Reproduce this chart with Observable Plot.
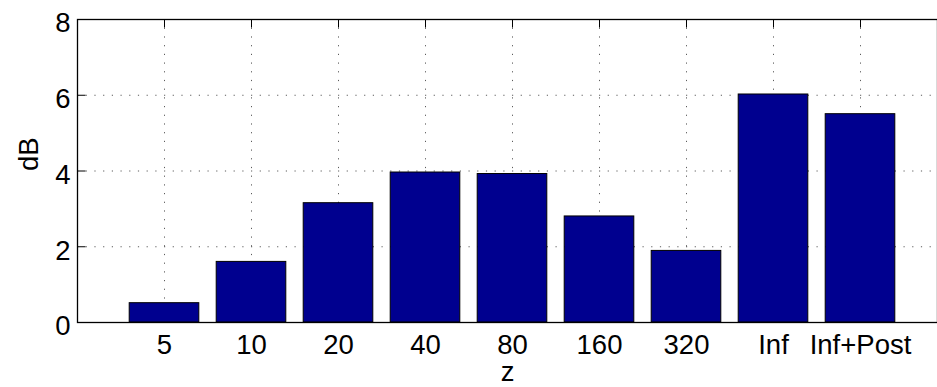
<!DOCTYPE html>
<html>
<head>
<meta charset="utf-8">
<script src="https://cdn.jsdelivr.net/npm/d3@7"></script>
<script src="https://cdn.jsdelivr.net/npm/@observablehq/plot@0.6"></script>
<style>
  html, body { margin: 0; padding: 0; background: #fff; overflow: hidden; width: 937px; height: 387px; }
</style>
</head>
<body>
<div id="chart"></div>
<script>
// Gain (dB) per z setting
const categories = ["5", "10", "20", "40", "80", "160", "320", "Inf", "Inf+Post"];
const values = [0.51, 1.60, 3.15, 3.96, 3.92, 2.80, 1.89, 6.02, 5.50];
const yTicks = [0, 2, 4, 6, 8];

const positions = categories.map((_, i) => i + 1);
const bars = categories.map((c, i) => ({category: c, pos: positions[i], value: values[i]}));

const width = 937, height = 387;
const xDomain = [0, 10], yDomain = [0, 8];
const xRange = [77, 947], yRange = [322, 19];
const tickPx = 8.5;
const xPerPx = (xDomain[1] - xDomain[0]) / (xRange[1] - xRange[0]);
const yPerPx = (yDomain[1] - yDomain[0]) / (yRange[0] - yRange[1]);
const font = '"Liberation Sans", Arial, Helvetica, sans-serif';
const grid = {stroke: "#333", strokeWidth: 1, strokeDasharray: "1.2,7.5", strokeOpacity: 0.8};
const fs = 27.5;

const chart = Plot.plot({
  width, height,
  marginLeft: 77, marginTop: 19, marginBottom: 65, marginRight: 0,
  style: {fontFamily: font, background: "#fff", overflow: "hidden"},
  x: {domain: xDomain, range: xRange, axis: null},
  y: {domain: yDomain, range: yRange, axis: null},
  marks: [
    // dotted grid
    Plot.ruleY(yTicks.slice(1, -1), {y: d => d, ...grid}),
    Plot.ruleX(positions, {x: d => d, ...grid}),
    // inward tick marks
    Plot.ruleX(positions, {x: d => d, y1: yDomain[1], y2: yDomain[1] - tickPx * yPerPx, stroke: "#000"}),
    Plot.ruleX(positions, {x: d => d, y1: yDomain[0], y2: yDomain[0] + tickPx * yPerPx, stroke: "#000"}),
    Plot.ruleY(yTicks, {y: d => d, x1: xDomain[0], x2: xDomain[0] + tickPx * xPerPx, stroke: "#000"}),
    // bars
    Plot.rect(bars, {x1: d => d.pos - 0.4, x2: d => d.pos + 0.4, y1: 0, y2: "value", fill: "#00008f", stroke: "#000", strokeWidth: 1}),
    Plot.frame({stroke: "#000", strokeWidth: 1.3}),
    // tick labels
    Plot.text(yTicks, {y: d => d, frameAnchor: "left", textAnchor: "end", dx: -7, dy: 4, fontSize: fs, fill: "#000"}),
    Plot.text(bars, {x: "pos", text: "category", frameAnchor: "bottom", dy: 31, fontSize: fs, fill: "#000"}),
    // axis titles
    Plot.text(["z"], {frameAnchor: "bottom", dy: 58, fontSize: fs, fill: "#000"}),
    Plot.text(["dB"], {frameAnchor: "left", rotate: -90, dx: -48, fontSize: fs, fill: "#000"})
  ]
});
document.getElementById("chart").appendChild(chart);
</script>
</body>
</html>
